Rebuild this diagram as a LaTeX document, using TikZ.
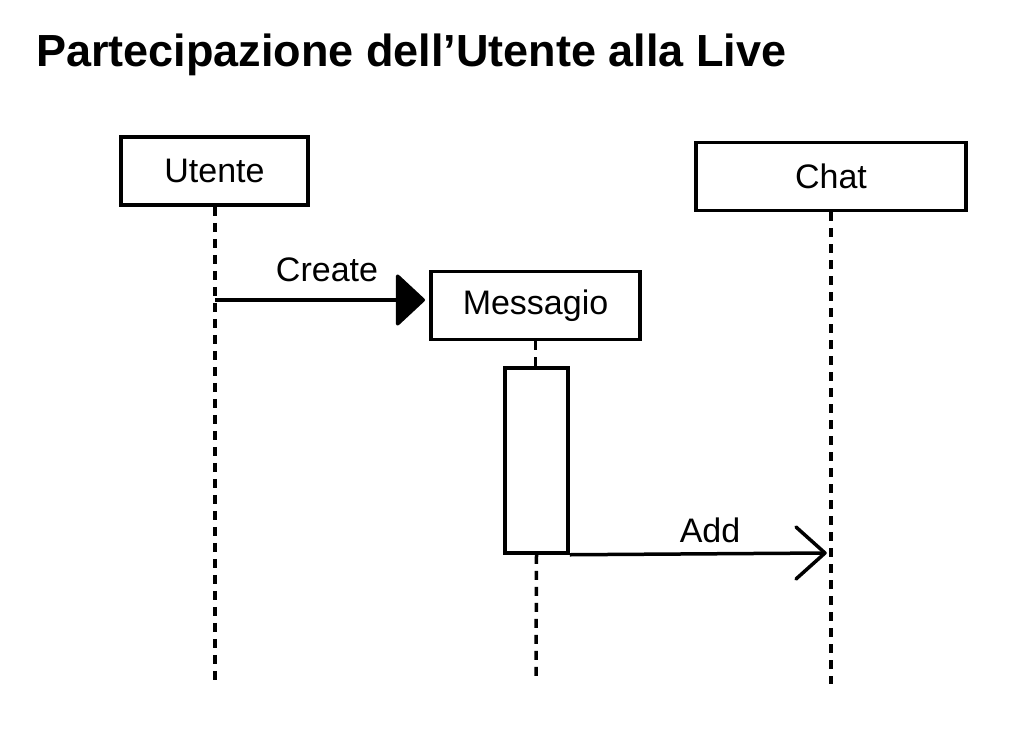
\documentclass[tikz,border=0pt]{standalone}
\usepackage{fontspec}
\setmainfont{Liberation Sans}
\usetikzlibrary{arrows.meta}
\begin{document}
\begin{tikzpicture}[x=1pt,y=-1pt,
  objbox/.style={draw,line width=3.5pt,minimum height=68pt,inner sep=0pt,font=\fontsize{34}{40}\selectfont},
  lifeline/.style={line width=3.5pt,dash pattern=on 9pt off 7pt},
  msg/.style={line width=3.5pt},
  lbl/.style={font=\fontsize{34}{40}\selectfont,inner sep=0pt,anchor=base}]
\useasboundingbox (0,0) rectangle (1014,742);
\node[anchor=base west,inner sep=0pt,font=\bfseries\fontsize{45}{54}\selectfont] (title) at (36,66) {Partecipazione dell’Utente alla Live};
\node[objbox,minimum width=187pt] (utente) at (214.5,171) {Utente};
\node[objbox,minimum width=270pt] (chat) at (831,176.5) {Chat};
\node[objbox,minimum width=209pt] (mess) at (535.5,305.5) {Messagio};
\node[draw,line width=3.5pt,minimum width=63pt,minimum height=185pt,inner sep=0pt] (act) at (536.5,460.5) {};
\coordinate (uend) at (215,684);
\coordinate (mend) at (536,676);
\coordinate (cend) at (831,684);
\draw[lifeline] (utente.south -| uend) -- (uend);
\draw[lifeline] (mess.south) -- (act.north -| mess.south);
\draw[lifeline] (act.south) -- (mend);
\draw[lifeline] (chat.south) -- (cend);
\coordinate (cs) at (215,300);
\coordinate (ce) at (425,300);
\coordinate (ae) at (825,553);
\draw[msg,-{Triangle[length=30pt,width=55pt,line join=round,round]}] (cs) -- (ce);
\node[lbl] (create) at (327,281) {Create};
\draw[msg] (act.south east) -- (ae);
\draw[msg,line join=round,line cap=round] ([shift={(-29,-26)}]ae) -- (ae) -- ([shift={(-29,26)}]ae);
\node[lbl] (add) at (710,542) {Add};
\end{tikzpicture}
\end{document}
